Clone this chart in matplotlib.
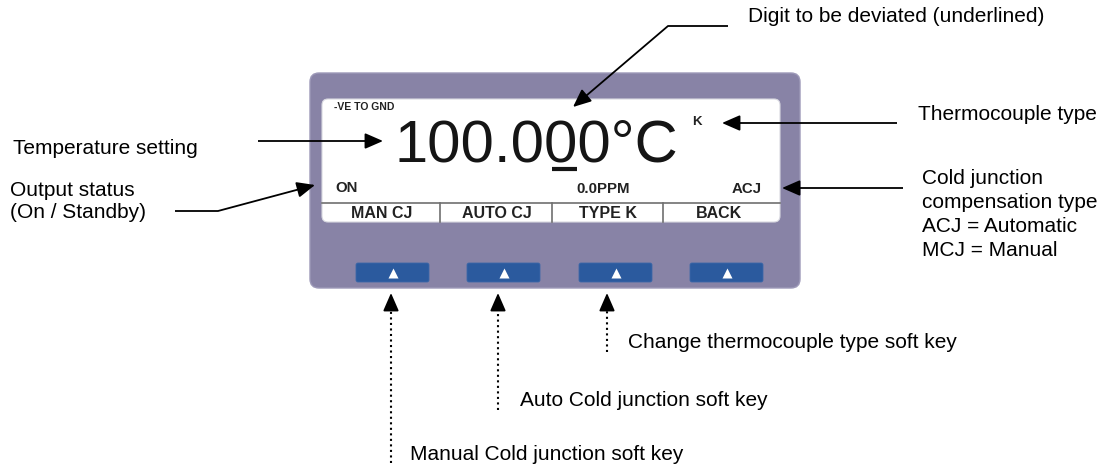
import matplotlib.pyplot as plt
from matplotlib.patches import FancyBboxPatch

# texts shown on the display
READING = '100.000\u00b0C'
TOP_FLAG = '-VE TO GND'
TC_TYPE = 'K'
STATUS = 'ON'
DRIFT = '0.0PPM'
CJ_MODE = 'ACJ'
SOFT_KEYS = ['MAN CJ', 'AUTO CJ', 'TYPE K', 'BACK']

# callout texts
LEFT_NOTES = ['Temperature setting', 'Output status', '(On / Standby)']
TOP_NOTE = 'Digit to be deviated (underlined)'
RIGHT_NOTES = ['Thermocouple type', 'Cold junction', 'compensation type',
               'ACJ = Automatic', 'MCJ = Manual']
KEY_NOTES = ['Manual Cold junction soft key', 'Auto Cold junction soft key',
             'Change thermocouple type soft key']

PANEL = '#8883a6'
KEY_BLUE = '#2b5a9e'
FONT = ['Liberation Sans', 'DejaVu Sans']

ARROW = dict(arrowstyle='-|>,head_length=0.55,head_width=0.24',
             mutation_scale=20, color='black', lw=1.3,
             shrinkA=0, shrinkB=0)


def arrow(ax, pts, ls='-'):
    # polyline, solid arrow head on the last segment
    xs = [p[0] for p in pts]
    ys = [p[1] for p in pts]
    (x1, y1), (x2, y2) = pts[-2], pts[-1]
    # short stub for the head so dotted lines keep a solid head
    d = ((x2 - x1) ** 2 + (y2 - y1) ** 2) ** 0.5
    f = min(1.0, 16.0 / d)
    stub = (x2 - (x2 - x1) * f, y2 - (y2 - y1) * f)
    ax.plot(xs[:-1] + [stub[0]], ys[:-1] + [stub[1]], color='black',
            lw=1.5 if ls == ':' else 1.3, ls=ls, solid_capstyle='butt')
    ax.annotate('', xy=pts[-1], xytext=stub, arrowprops=ARROW)


def main():
    fig = plt.figure(figsize=(11.09, 4.68), dpi=100)
    ax = fig.add_axes([0, 0, 1, 1])
    ax.set_xlim(0, 1109)
    ax.set_ylim(468, 0)
    ax.axis('off')

    # front panel
    ax.add_patch(FancyBboxPatch((310, 73), 490, 215,
                                boxstyle='round,pad=0,rounding_size=9',
                                fc=PANEL, ec='#9d99b8', lw=1))
    ax.add_patch(FancyBboxPatch((322, 99), 458, 123,
                                boxstyle='round,pad=0,rounding_size=6',
                                fc='white', ec='#d8d8e0', lw=0.8))
    ax.plot([322, 780], [203, 203], color='#6f6f6f', lw=1.2)
    for x in [440, 552, 663]:
        ax.plot([x, x], [203, 222], color='#6f6f6f', lw=1.2)

    # display contents
    ax.text(536, 162, READING, fontsize=43, family=FONT, color='#151515',
            ha='center', va='baseline')
    ax.plot([552, 577], [169, 169], color='#151515', lw=3,
            solid_capstyle='butt')
    ax.text(334, 107, TOP_FLAG, fontsize=7.5, family=FONT,
            weight='bold', color='#222', va='center')
    ax.text(697, 122, TC_TYPE, fontsize=9.5, family=FONT,
            weight='bold', color='#222', ha='center', va='center')
    ax.text(335, 188, STATUS, fontsize=10.8, family=FONT, weight='bold',
            color='#222', va='center')
    ax.text(603, 189, DRIFT, fontsize=10.8, family=FONT, weight='bold',
            color='#222', ha='center', va='center')
    ax.text(762, 189, CJ_MODE, fontsize=10.8, family=FONT, weight='bold',
            color='#222', ha='right', va='center')
    for x, lab in zip([382, 497, 608, 719], SOFT_KEYS):
        ax.text(x, 213, lab, fontsize=11.5, family=FONT, weight='bold',
                color='#222', ha='center', va='center')

    # soft keys
    for x0 in [356, 467, 579, 690]:
        ax.add_patch(FancyBboxPatch((x0, 263), 73, 19,
                                    boxstyle='round,pad=0,rounding_size=2',
                                    fc=KEY_BLUE, ec='#3d68a8', lw=0.6))
        ax.plot(x0 + 36.5, 272.5, marker='^', ms=7, color='white', mec='none')

    # callouts
    arrow(ax, [(728, 26), (668, 26), (573, 107)])
    arrow(ax, [(258, 141), (383, 141)])
    arrow(ax, [(175, 211), (218, 211), (315, 185)])
    arrow(ax, [(897, 123), (722, 123)])
    arrow(ax, [(903, 188), (782, 188)])
    arrow(ax, [(391, 463), (391, 293)], ls=':')
    arrow(ax, [(498, 410), (498, 293)], ls=':')
    arrow(ax, [(607, 352), (607, 293)], ls=':')

    note = dict(fontsize=15, family=FONT, color='black', va='center')
    ax.text(748, 17, TOP_NOTE, **note)
    for (x, y), s in zip([(13, 148), (10, 190), (10, 213)], LEFT_NOTES):
        ax.text(x, y, s, **note)
    for (x, y), s in zip([(918, 115), (922, 178), (922, 202), (922, 226),
                          (922, 250)], RIGHT_NOTES):
        ax.text(x, y, s, **note)
    for (x, y), s in zip([(410, 455), (520, 400), (628, 342)], KEY_NOTES):
        ax.text(x, y, s, **note)

    fig.savefig('out.png', dpi=100)


if __name__ == '__main__':
    main()
